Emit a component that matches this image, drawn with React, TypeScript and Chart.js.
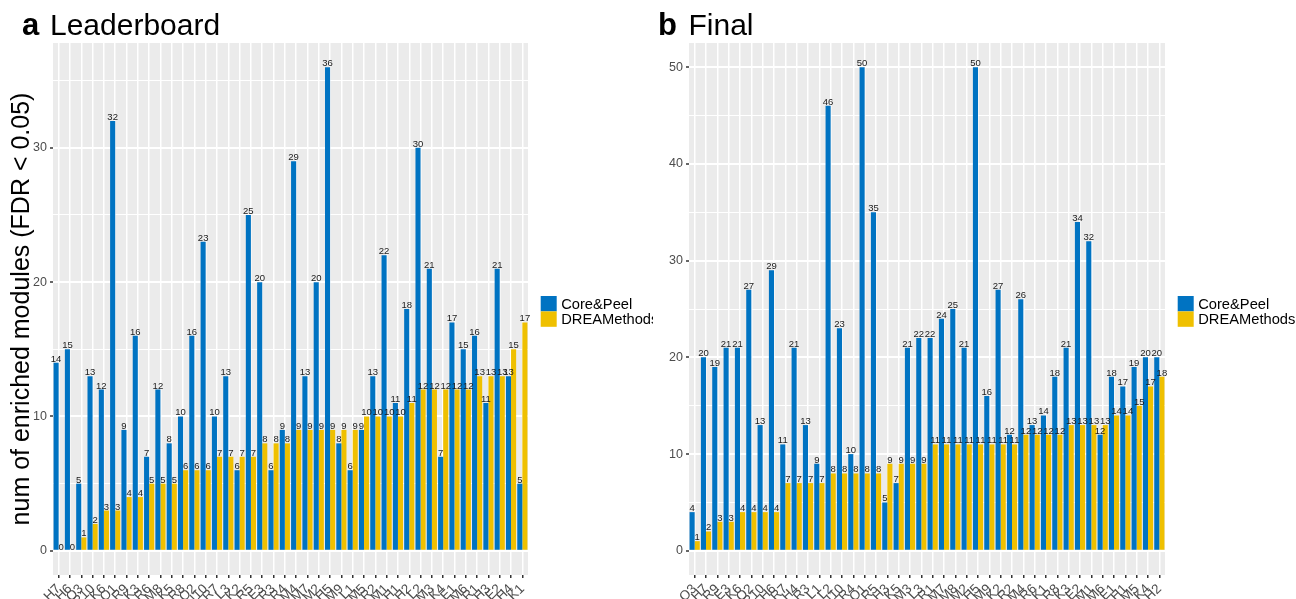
import React, { useEffect, useRef } from 'react';
import { Chart, registerables } from 'chart.js';

Chart.register(...registerables);

const FONT = '"Liberation Sans", Arial, Helvetica, sans-serif';

const seriesNames = ['Core&Peel', 'DREAMethods'];
const seriesColors = ['#0073C2', '#EFC000'];

// Panel a: Leaderboard
const categoriesA = ['H7', 'H6', 'O3', 'R10', 'K6', 'O1', 'R9', 'K3', 'R6', 'M8', 'K5', 'R8', 'O2', 'I10', 'R7', 'L3', 'K2', 'R5', 'E3', 'R3', 'R4', 'M4', 'M7', 'M2', 'H5', 'M9', 'L1', 'M5', 'R2', 'M1', 'H1', 'H2', 'L2', 'M3', 'K4', 'E1', 'M6', 'R1', 'H3', 'E2', 'H4', 'K1'];
const corePeelA = [14, 15, 5, 13, 12, 32, 9, 16, 7, 12, 8, 10, 16, 23, 10, 13, 6, 25, 20, 6, 9, 29, 13, 20, 36, 8, 6, 9, 13, 22, 11, 18, 30, 21, 7, 17, 15, 16, 11, 21, 13, 5];
const dreamA = [0, 0, 1, 2, 3, 3, 4, 4, 5, 5, 5, 6, 6, 6, 7, 7, 7, 7, 8, 8, 8, 9, 9, 9, 9, 9, 9, 10, 10, 10, 10, 11, 12, 12, 12, 12, 12, 13, 13, 13, 15, 17];
const yTicksA = [0, 5, 10, 15, 20, 25, 30, 35];
const yRangeA = [-1.8, 37.8];

// Panel b: Final
const categoriesB = ['O3', 'H7', 'R9', 'E3', 'K6', 'O2', 'R10', 'H6', 'R7', 'H4', 'R3', 'L1', 'L2', 'I10', 'R4', 'O1', 'R5', 'H3', 'K5', 'M3', 'L3', 'R1', 'M7', 'M8', 'M2', 'H5', 'M9', 'K2', 'R2', 'M4', 'R6', 'K1', 'R8', 'K3', 'E2', 'M1', 'M6', 'E1', 'H1', 'M5', 'K4', 'H2'];
const corePeelB = [4, 20, 19, 21, 21, 27, 13, 29, 11, 21, 13, 9, 46, 23, 10, 50, 35, 5, 7, 21, 22, 22, 24, 25, 21, 50, 16, 27, 12, 26, 13, 14, 18, 21, 34, 32, 12, 18, 17, 19, 20, 20];
const dreamB = [1, 2, 3, 3, 4, 4, 4, 4, 7, 7, 7, 7, 8, 8, 8, 8, 8, 9, 9, 9, 9, 11, 11, 11, 11, 11, 11, 11, 11, 12, 12, 12, 12, 13, 13, 13, 13, 14, 14, 15, 17, 18];
const yTicksB = [0, 5, 10, 15, 20, 25, 30, 35, 40, 45, 50];
const yRangeB = [-2.5, 52.5];

const yAxisTitle = 'num of enriched modules (FDR < 0.05)';

type PanelCfg = {
  letter: string;
  title: string;
  letterX: number;
  titleX: number;
  yTitle?: string;
  labels: string[];
  a: number[];
  b: number[];
  yTicks: number[];
  yRange: number[];
  yAxisWidth: number;
  padRight: number;
  width: number;
};

function makePlugin(cfg: PanelCfg) {
  return {
    id: 'ggstyle',
    beforeDraw(chart: any) {
      const { ctx, chartArea: ca } = chart;
      ctx.save();
      ctx.fillStyle = '#EBEBEB';
      ctx.fillRect(ca.left, ca.top, ca.right - ca.left, ca.bottom - ca.top);
      ctx.restore();
    },
    afterDatasetsDraw(chart: any) {
      const ctx = chart.ctx;
      ctx.save();
      ctx.font = `9.5px ${FONT}`;
      ctx.fillStyle = '#1A1A1A';
      ctx.textAlign = 'center';
      ctx.textBaseline = 'alphabetic';
      chart.data.datasets.forEach((ds: any, i: number) => {
        const meta = chart.getDatasetMeta(i);
        meta.data.forEach((bar: any, j: number) => {
          ctx.fillText(String(ds.data[j]), bar.x, bar.y - 1);
        });
      });
      ctx.restore();
    },
    afterDraw(chart: any) {
      const { ctx, chartArea: ca } = chart;
      ctx.save();
      // title
      ctx.fillStyle = '#000000';
      ctx.textAlign = 'left';
      ctx.textBaseline = 'alphabetic';
      ctx.font = `bold 31px ${FONT}`;
      ctx.fillText(cfg.letter, cfg.letterX, 35);
      ctx.font = `30px ${FONT}`;
      ctx.fillText(cfg.title, cfg.titleX, 35);
      // y axis title
      if (cfg.yTitle) {
        ctx.save();
        ctx.translate(29, (ca.top + ca.bottom) / 2);
        ctx.rotate(-Math.PI / 2);
        ctx.textAlign = 'center';
        ctx.textBaseline = 'alphabetic';
        ctx.font = `25px ${FONT}`;
        ctx.fillStyle = '#000000';
        ctx.fillText(cfg.yTitle, 0, 0);
        ctx.restore();
      }
      // legend
      const kx = ca.right + 12.7;
      const ky = 296;
      const kh = 15.4;
      const kw = 16;
      ctx.font = `14.7px ${FONT}`;
      chart.data.datasets.forEach((ds: any, i: number) => {
        ctx.fillStyle = ds.backgroundColor;
        ctx.fillRect(kx, ky + i * kh, kw, kh);
        ctx.fillStyle = '#000000';
        ctx.textAlign = 'left';
        ctx.fillText(ds.label, kx + kw + 4.5, ky + i * kh + kh / 2 + 5);
      });
      ctx.restore();
    },
  };
}

function buildConfig(cfg: PanelCfg): any {
  const isMajor = (c: any) => c && c.tick && c.tick.value % 10 === 0;
  return {
    type: 'bar',
    data: {
      labels: cfg.labels,
      datasets: [
        { label: seriesNames[0], data: cfg.a, backgroundColor: seriesColors[0], borderWidth: 0 },
        { label: seriesNames[1], data: cfg.b, backgroundColor: seriesColors[1], borderWidth: 0 },
      ],
    },
    options: {
      responsive: false,
      maintainAspectRatio: false,
      animation: false,
      devicePixelRatio: 1,
      layout: { padding: { top: 43, right: cfg.padRight, left: 0, bottom: 0 } },
      plugins: {
        legend: { display: false },
        tooltip: { enabled: false },
        title: { display: false },
      },
      datasets: { bar: { categoryPercentage: 0.9, barPercentage: 1 } },
      scales: {
        x: {
          type: 'category',
          offset: true,
          grid: {
            offset: false,
            color: '#FFFFFF',
            lineWidth: 1.5,
            tickColor: '#333333',
            tickWidth: 1.5,
            tickLength: 3,
            drawOnChartArea: true,
          },
          border: { display: false },
          ticks: {
            autoSkip: false,
            maxRotation: 45,
            minRotation: 45,
            color: '#4D4D4D',
            font: { family: FONT, size: 13.5 },
            padding: 3,
          },
          afterFit: (s: any) => {
            s.height = 24;
          },
        },
        y: {
          type: 'linear',
          min: cfg.yRange[0],
          max: cfg.yRange[1],
          bounds: 'data',
          grid: {
            color: '#FFFFFF',
            lineWidth: (c: any) => (isMajor(c) ? 2 : 1),
            tickColor: (c: any) => (isMajor(c) ? '#333333' : 'rgba(0,0,0,0)'),
            tickWidth: 1.5,
            tickLength: 3,
          },
          border: { display: false },
          ticks: {
            autoSkip: false,
            color: '#4D4D4D',
            font: { family: FONT, size: 12.5 },
            padding: 3,
            callback: (v: any) => (Number(v) % 10 === 0 ? String(v) : ''),
          },
          afterBuildTicks: (s: any) => {
            s.ticks = cfg.yTicks.map((v) => ({ value: v }));
          },
          afterFit: (s: any) => {
            s.width = cfg.yAxisWidth;
          },
        },
      },
    },
    plugins: [makePlugin(cfg)],
  };
}

function Panel({ cfg, left }: { cfg: PanelCfg; left: number }) {
  const ref = useRef<HTMLCanvasElement>(null);
  useEffect(() => {
    if (!ref.current) return;
    const chart = new Chart(ref.current, buildConfig(cfg));
    return () => chart.destroy();
  }, []);
  return (
    <canvas
      ref={ref}
      width={cfg.width}
      height={599}
      style={{ position: 'absolute', left, top: 0, width: cfg.width, height: 599, display: 'block' }}
    />
  );
}

const panelA: PanelCfg = {
  letter: 'a',
  title: 'Leaderboard',
  letterX: 22,
  titleX: 50,
  yTitle: yAxisTitle,
  labels: categoriesA,
  a: corePeelA,
  b: dreamA,
  yTicks: yTicksA,
  yRange: yRangeA,
  yAxisWidth: 53,
  padRight: 125,
  width: 653,
};

const panelB: PanelCfg = {
  letter: 'b',
  title: 'Final',
  letterX: 5,
  titleX: 35.5,
  labels: categoriesB,
  a: corePeelB,
  b: dreamB,
  yTicks: yTicksB,
  yRange: yRangeB,
  yAxisWidth: 36,
  padRight: 131,
  width: 643,
};

export default function App() {
  return (
    <div
      style={{
        position: 'fixed',
        left: 0,
        top: 0,
        width: 1296,
        height: 599,
        overflow: 'hidden',
        background: '#FFFFFF',
      }}
    >
      <Panel cfg={panelA} left={0} />
      <Panel cfg={panelB} left={653} />
    </div>
  );
}
